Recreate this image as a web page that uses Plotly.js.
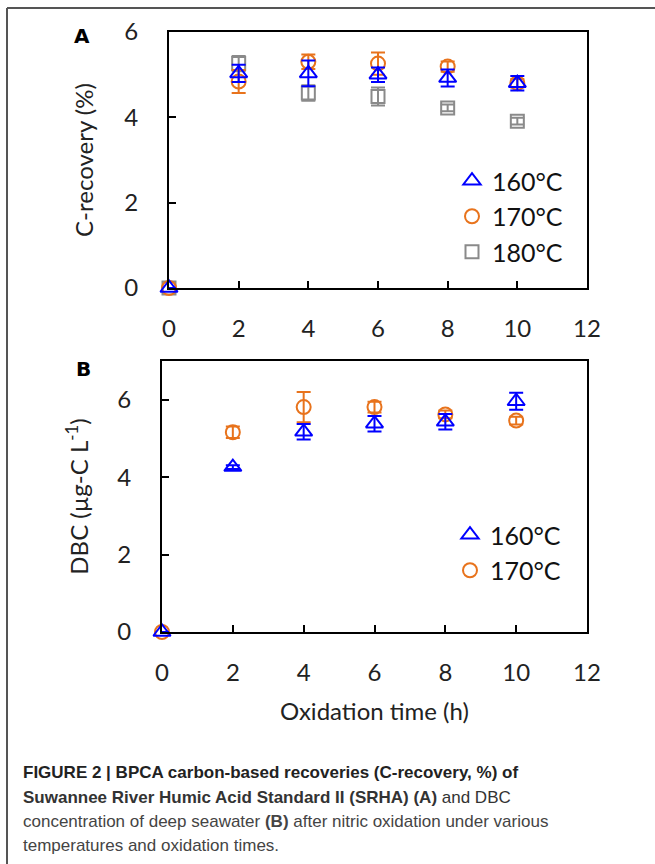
<!DOCTYPE html>
<html>
<head>
<meta charset="utf-8">
<script src="https://cdn.plot.ly/plotly-3.0.1.min.js"></script>
<style>html,body{margin:0;padding:0;background:#fff;}#chart{width:655px;height:864px;}</style>
</head>
<body>
<div id="chart"></div>
<script>
// Oxidation time (h)
const time = [0, 2, 4, 6, 8, 10];

// Panel A: C-recovery (%)
const recov160 = [0, 5.03, 5.03, 5.00, 4.92, 4.80];
const recov160Err = [0, 0.20, 0.30, 0.17, 0.20, 0.17];
const recov170 = [0, 4.84, 5.30, 5.26, 5.19, 4.80];
const recov170Err = [0, 0.27, 0.17, 0.26, 0.12, 0.10];
const recov180 = [0, 5.26, 4.57, 4.49, 4.22, 3.91];
const recov180Err = [0, 0.18, 0.18, 0.21, 0.08, 0.08];

// Panel B: DBC (µg-C L-1)
const dbc160 = [0, 4.26, 5.17, 5.38, 5.43, 5.96];
const dbc160Err = [0, 0.05, 0.20, 0.20, 0.20, 0.22];
const dbc170 = [0, 5.16, 5.81, 5.81, 5.62, 5.46];
const dbc170Err = [0, 0.15, 0.39, 0.14, 0.10, 0.10];

const seriesNames = ["160°C", "170°C", "180°C"];
const xTicks = [0, 2, 4, 6, 8, 10, 12];

const W = 655, H = 864;
const BLUE = "#0000ff", ORANGE = "#e8731c", GRAY = "#8a8a8a";
const FONT = "Lato, 'Open Sans', sans-serif";

function tr(x, y, err, name, sym, color, xa, ya, legend, rank, size) {
  return {
    x: x, y: y, name: name, type: "scatter", mode: "markers",
    xaxis: xa, yaxis: ya, legend: legend, legendrank: rank,
    cliponaxis: false,
    marker: {symbol: sym, size: size, color: color, line: {color: color, width: 2}},
    error_y: {type: "data", array: err, visible: true, color: color, thickness: 2, width: 7}
  };
}

const data = [
  tr(time, recov180, recov180Err, seriesNames[2], "square-open", GRAY, "x", "y", "legend", 3, 13),
  tr(time, recov170, recov170Err, seriesNames[1], "circle-open", ORANGE, "x", "y", "legend", 2, 14),
  tr(time, recov160, recov160Err, seriesNames[0], "triangle-up-open", BLUE, "x", "y", "legend", 1, 15),
  tr(time, dbc170, dbc170Err, seriesNames[1], "circle-open", ORANGE, "x2", "y2", "legend2", 2, 14),
  tr(time, dbc160, dbc160Err, seriesNames[0], "triangle-up-open", BLUE, "x2", "y2", "legend2", 1, 15)
];

function px(x) { return x / W; }
function py(y) { return 1 - y / H; }

const axisCommon = {
  showline: true, linecolor: "#000", linewidth: 2, mirror: true,
  ticks: "inside", ticklen: 7, tickwidth: 2, tickcolor: "#000",
  showgrid: false, zeroline: false,
  tickfont: {family: FONT, size: 24, color: "#222"},
  ticklabelstandoff: 18, fixedrange: true
};

const layout = {
  width: W, height: H,
  margin: {l: 0, r: 0, t: 0, b: 0, pad: 0},
  paper_bgcolor: "#fff", plot_bgcolor: "#fff",
  showlegend: true,
  xaxis: Object.assign({}, axisCommon, {
    domain: [px(169), px(587)], range: [0, 12], tickvals: xTicks, anchor: "y"
  }),
  yaxis: Object.assign({}, axisCommon, {
    domain: [py(288), py(32)], range: [0, 6], tickvals: [0, 2, 4, 6], anchor: "x",
    ticklabelstandoff: 24,
    title: {text: "C-recovery (%)", font: {family: FONT, size: 24, color: "#222"}, standoff: 24}
  }),
  xaxis2: Object.assign({}, axisCommon, {
    domain: [px(162), px(587)], range: [0, 12], tickvals: xTicks, anchor: "y2",
    title: {text: "Oxidation time (h)", font: {family: FONT, size: 24, color: "#222"}, standoff: 18}
  }),
  yaxis2: Object.assign({}, axisCommon, {
    domain: [py(632), py(361)], range: [0, 7], tickvals: [0, 2, 4, 6], anchor: "x2",
    ticklabelstandoff: 24,
    title: {text: "DBC (µg-C L<sup>-1</sup>)", font: {family: FONT, size: 24, color: "#222"}, standoff: 22}
  }),
  legend: {
    x: px(452), y: py(158), xanchor: "left", yanchor: "top",
    bgcolor: "rgba(0,0,0,0)", font: {family: FONT, size: 25, color: "#111"},
    itemwidth: 30, tracegroupgap: 0
  },
  legend2: {
    x: px(450), y: py(512), xanchor: "left", yanchor: "top",
    bgcolor: "rgba(0,0,0,0)", font: {family: FONT, size: 25, color: "#111"},
    itemwidth: 30, tracegroupgap: 0
  },
  shapes: [
    {type: "line", xref: "paper", yref: "paper", x0: px(7), x1: 1, y0: py(8), y1: py(8), line: {color: "#555", width: 2}},
    {type: "line", xref: "paper", yref: "paper", x0: px(7), x1: px(7), y0: py(8), y1: 0, line: {color: "#555", width: 2}}
  ],
  annotations: [
    {text: "<b>A</b>", xref: "paper", yref: "paper", x: px(82), y: py(36), xanchor: "center", yanchor: "middle", showarrow: false, font: {family: "'DejaVu Sans', sans-serif", size: 20, color: "#000"}},
    {text: "<b>B</b>", xref: "paper", yref: "paper", x: px(83), y: py(369), xanchor: "center", yanchor: "middle", showarrow: false, font: {family: "'DejaVu Sans', sans-serif", size: 20, color: "#000"}},
    {text: "<b>FIGURE 2 | BPCA carbon-based recoveries (C-recovery, %) of</b>", xref: "paper", yref: "paper", x: px(21), y: py(772), xanchor: "left", yanchor: "middle", showarrow: false, font: {family: "'Liberation Sans', Arial, sans-serif", size: 17, color: "#222"}},
    {text: "<b>Suwannee River Humic Acid Standard II (SRHA) (A)</b> and DBC", xref: "paper", yref: "paper", x: px(21), y: py(797), xanchor: "left", yanchor: "middle", showarrow: false, font: {family: "'Liberation Sans', Arial, sans-serif", size: 17, color: "#333"}},
    {text: "concentration of deep seawater <b>(B)</b> after nitric oxidation under various", xref: "paper", yref: "paper", x: px(21), y: py(821), xanchor: "left", yanchor: "middle", showarrow: false, font: {family: "'Liberation Sans', Arial, sans-serif", size: 17, color: "#444"}},
    {text: "temperatures and oxidation times.", xref: "paper", yref: "paper", x: px(21), y: py(845), xanchor: "left", yanchor: "middle", showarrow: false, font: {family: "'Liberation Sans', Arial, sans-serif", size: 17, color: "#444"}}
  ]
};

Plotly.newPlot("chart", data, layout, {staticPlot: true, displayModeBar: false});
</script>
</body>
</html>
